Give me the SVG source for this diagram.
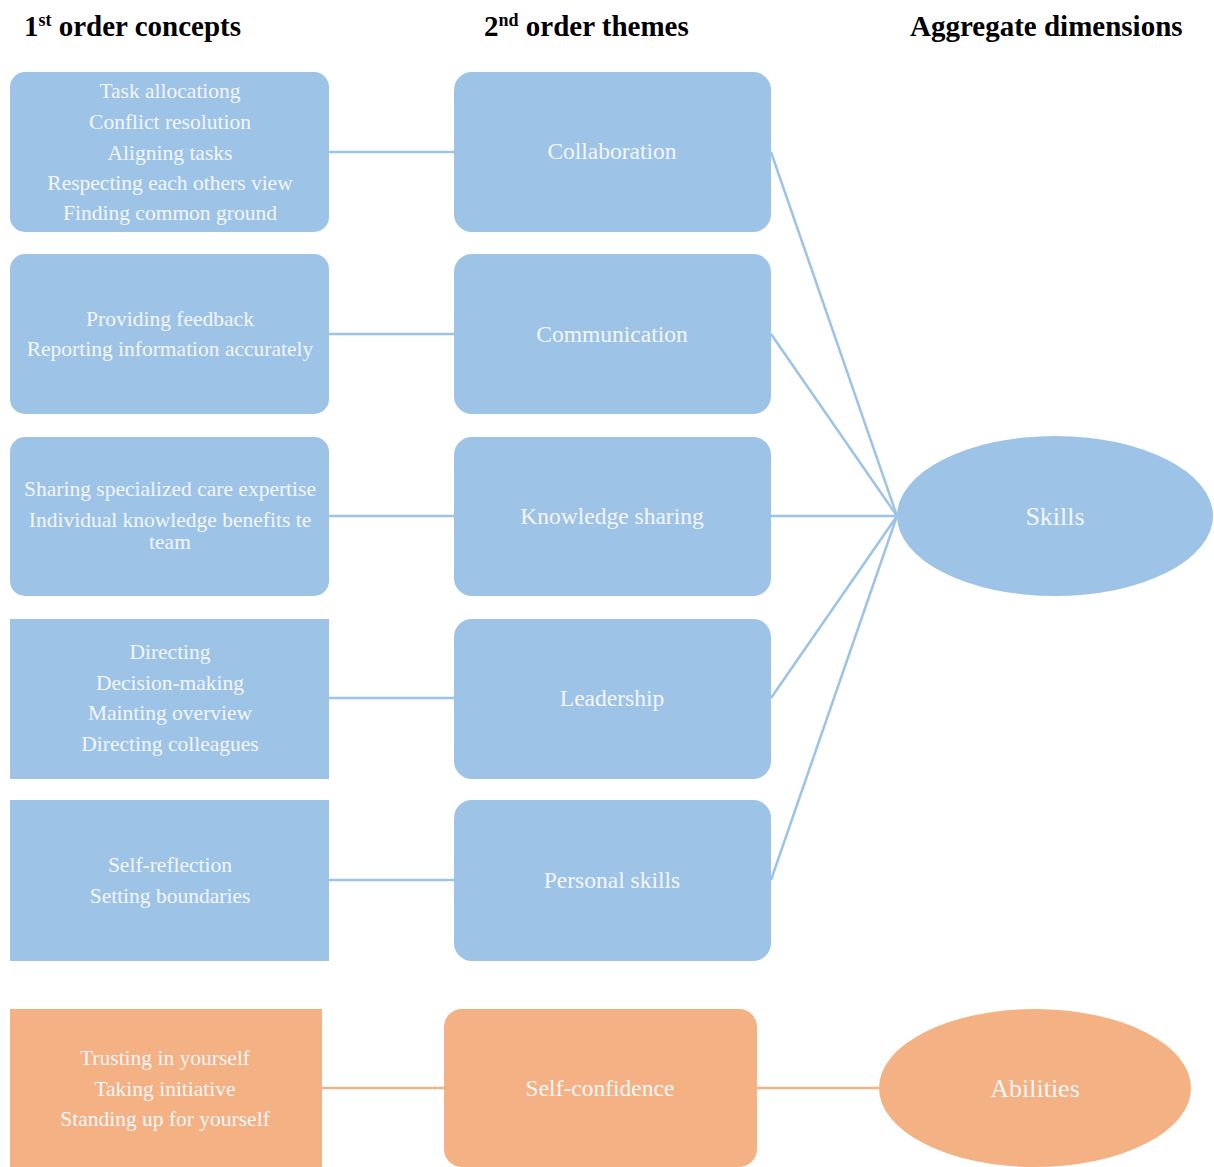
<svg xmlns="http://www.w3.org/2000/svg" width="1214" height="1167" viewBox="0 0 1214 1167">
  <style>
    .head { font-family: "Liberation Serif", "Times New Roman", serif; font-weight: bold; font-size: 29px; fill: #000; }
    .sup { font-size: 18px; }
    .blue { fill: #9dc3e6; }
    .orange { fill: #f4b183; }
    .t1 { font-family: "Liberation Serif", "Times New Roman", serif; font-size: 21.5px; fill: #f4f6fa; text-anchor: middle; }
    .t2 { font-family: "Liberation Serif", "Times New Roman", serif; font-size: 23.5px; fill: #f4f6fa; text-anchor: middle; }
    .t3 { font-family: "Liberation Serif", "Times New Roman", serif; font-size: 26px; fill: #f4f6fa; text-anchor: middle; }
    .lb { stroke: #9dc3e6; stroke-width: 2.5; fill: none; }
    .lo { stroke: #f4b183; stroke-width: 2.5; fill: none; }
  </style>

  <!-- column headings -->
  <text class="head" x="24" y="36">1<tspan class="sup" dy="-10">st</tspan><tspan dy="10"> order concepts</tspan></text>
  <text class="head" x="484" y="36">2<tspan class="sup" dy="-10">nd</tspan><tspan dy="10"> order themes</tspan></text>
  <text class="head" x="910" y="36">Aggregate dimensions</text>

  <!-- connectors -->
  <g id="connectors">
    <line class="lb" x1="329" y1="152" x2="454" y2="152"/>
    <line class="lb" x1="329" y1="334" x2="454" y2="334"/>
    <line class="lb" x1="329" y1="516" x2="454" y2="516"/>
    <line class="lb" x1="329" y1="698" x2="454" y2="698"/>
    <line class="lb" x1="329" y1="880" x2="454" y2="880"/>
    <line class="lb" x1="771" y1="152" x2="897" y2="516"/>
    <line class="lb" x1="771" y1="334" x2="897" y2="516"/>
    <line class="lb" x1="771" y1="516" x2="897" y2="516"/>
    <line class="lb" x1="771" y1="698" x2="897" y2="516"/>
    <line class="lb" x1="771" y1="880" x2="897" y2="516"/>
    <line class="lo" x1="322" y1="1088" x2="444" y2="1088"/>
    <line class="lo" x1="757" y1="1088" x2="879" y2="1088"/>
  </g>

  <!-- 1st order concepts -->
  <g id="concept-collaboration">
    <rect class="blue" x="10" y="72" width="319" height="160" rx="15"/>
    <text class="t1" x="170" y="98">Task  allocationg</text>
    <text class="t1" x="170" y="129">Conflict resolution</text>
    <text class="t1" x="170" y="160">Aligning  tasks</text>
    <text class="t1" x="170" y="190">Respecting each others view</text>
    <text class="t1" x="170" y="220">Finding  common ground</text>
  </g>
  <g id="concept-communication">
    <rect class="blue" x="10" y="254" width="319" height="160" rx="15"/>
    <text class="t1" x="170" y="326">Providing feedback</text>
    <text class="t1" x="170" y="356">Reporting information accurately</text>
  </g>
  <g id="concept-knowledge">
    <rect class="blue" x="10" y="437" width="319" height="159" rx="15"/>
    <text class="t1" x="170" y="496">Sharing  specialized care expertise</text>
    <text class="t1" x="170" y="527">Individual  knowledge benefits te</text>
    <text class="t1" x="170" y="549">team</text>
  </g>
  <g id="concept-leadership">
    <rect class="blue" x="10" y="619" width="319" height="160"/>
    <text class="t1" x="170" y="659">Directing</text>
    <text class="t1" x="170" y="690">Decision-making</text>
    <text class="t1" x="170" y="720">Mainting overview</text>
    <text class="t1" x="170" y="751">Directing colleagues</text>
  </g>
  <g id="concept-personal">
    <rect class="blue" x="10" y="800" width="319" height="161"/>
    <text class="t1" x="170" y="872">Self-reflection</text>
    <text class="t1" x="170" y="903">Setting boundaries</text>
  </g>
  <g id="concept-confidence">
    <rect class="orange" x="10" y="1009" width="312" height="158"/>
    <text class="t1" x="165" y="1065">Trusting  in yourself</text>
    <text class="t1" x="165" y="1096">Taking  initiative</text>
    <text class="t1" x="165" y="1126">Standing up  for yourself</text>
  </g>

  <!-- 2nd order themes -->
  <g id="theme-collaboration">
    <rect class="blue" x="454" y="72" width="317" height="160" rx="18"/>
    <text class="t2" x="612" y="159">Collaboration</text>
  </g>
  <g id="theme-communication">
    <rect class="blue" x="454" y="254" width="317" height="160" rx="18"/>
    <text class="t2" x="612" y="342">Communication</text>
  </g>
  <g id="theme-knowledge">
    <rect class="blue" x="454" y="437" width="317" height="159" rx="18"/>
    <text class="t2" x="612" y="524">Knowledge  sharing</text>
  </g>
  <g id="theme-leadership">
    <rect class="blue" x="454" y="619" width="317" height="160" rx="18"/>
    <text class="t2" x="612" y="706">Leadership</text>
  </g>
  <g id="theme-personal">
    <rect class="blue" x="454" y="800" width="317" height="161" rx="18"/>
    <text class="t2" x="612" y="888">Personal skills</text>
  </g>
  <g id="theme-confidence">
    <rect class="orange" x="444" y="1009" width="313" height="158" rx="18"/>
    <text class="t2" x="600" y="1096">Self-confidence</text>
  </g>

  <!-- aggregate dimensions -->
  <g id="dim-skills">
    <ellipse class="blue" cx="1055" cy="516" rx="158" ry="80"/>
    <text class="t3" x="1055" y="525">Skills</text>
  </g>
  <g id="dim-abilities">
    <ellipse class="orange" cx="1035" cy="1088" rx="156" ry="79"/>
    <text class="t3" x="1035" y="1097">Abilities</text>
  </g>
</svg>
